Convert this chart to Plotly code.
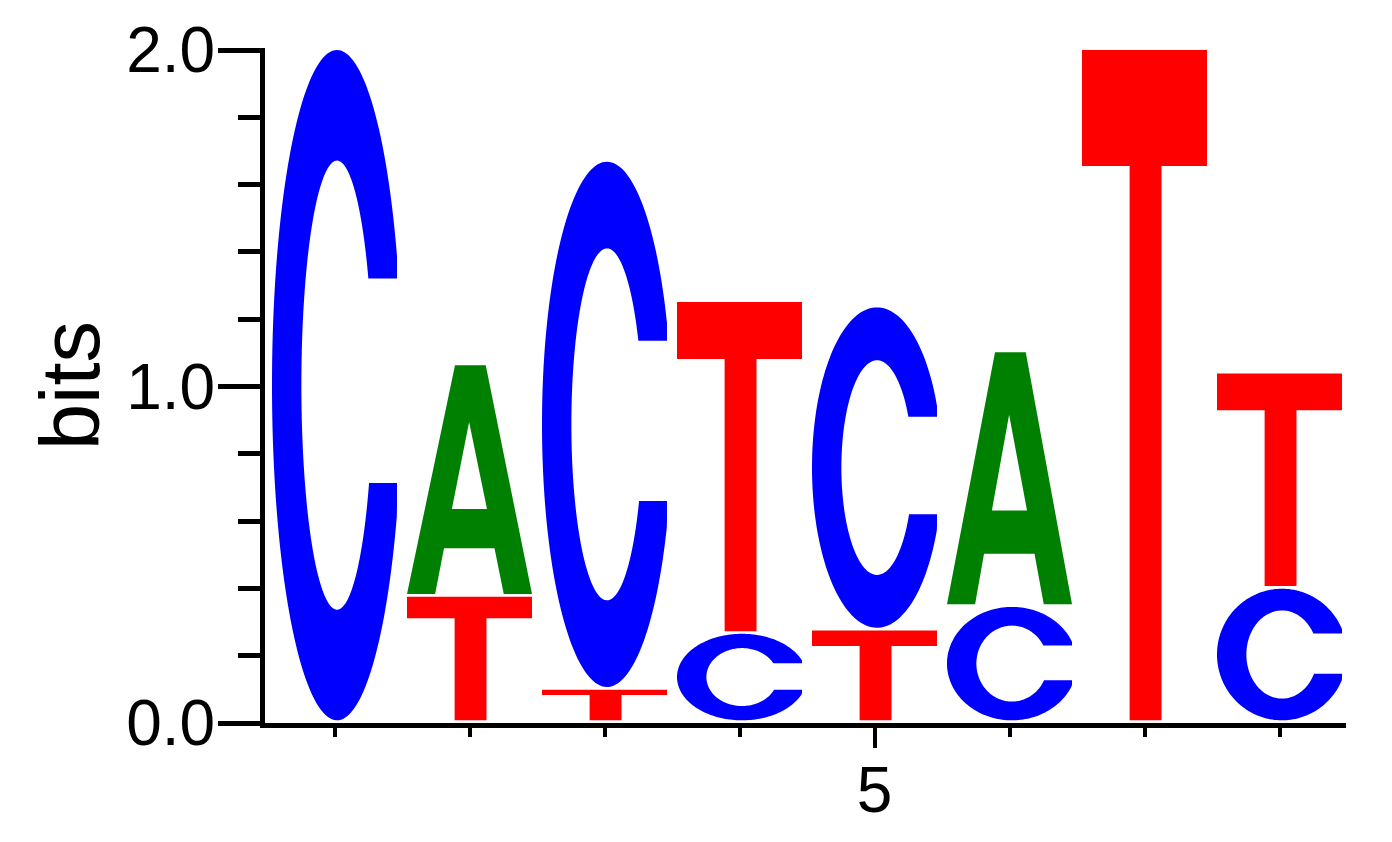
import math
import numpy as np
import plotly.graph_objects as go

positions = [1, 2, 3, 4, 5, 6, 7, 8]
# letters stacked bottom -> top at each position
stack_letters = [["C"], ["T", "A"], ["T", "C"], ["C", "T"], ["T", "C"], ["C", "A"], ["T"], ["C", "T"]]
# information (bits) carried by each letter, same order
stack_bits = [[2.0], [0.375, 0.688], [0.099, 1.569], [0.265, 0.986],
              [0.275, 0.960], [0.345, 0.757], [2.0], [0.399, 0.640]]
y_tick_vals = [0, 1, 2]
y_tick_text = ["0.0", "1.0", "2.0"]
x_tick_vals = [5]
x_tick_text = ["5"]

letter_colors = {"A": "#008000", "C": "#0000FF", "G": "#FFA500", "T": "#FF0000"}

# ---- glyph outlines in a unit box (u: 0..1 left->right, v: 0..1 bottom->top) ----
def glyph_C(n=160):
    cx, cy, rx, ry = 0.52, 0.5, 0.52, 0.5
    icx, icy, irx, iry = 0.52, 0.5, 0.285, 0.335
    top_cut, bot_cut = 0.659, 0.354
    t1 = math.asin((top_cut - cy) / ry)
    t2 = 2 * math.pi + math.asin((bot_cut - cy) / ry)
    outer = [(min(cx + rx * math.cos(t), 1.0), cy + ry * math.sin(t)) for t in np.linspace(t1, t2, n)]
    p1 = math.asin((top_cut - icy) / iry)
    p2 = 2 * math.pi + math.asin((bot_cut - icy) / iry)
    inner = [(icx + irx * math.cos(p), icy + iry * math.sin(p)) for p in np.linspace(p2, p1, n)]
    return [outer + inner]


def glyph_A():
    outer = [(0.0, 0.0), (0.384, 1.0), (0.630, 1.0), (1.0, 0.0), (0.774, 0.0),
             (0.700, 0.200), (0.296, 0.200), (0.225, 0.0)]
    hole = [(0.359, 0.372), (0.497, 0.752), (0.640, 0.372)]
    return [outer, hole]


def glyph_T():
    b = 0.827
    return [[(0.381, 0.0), (0.636, 0.0), (0.636, b), (1.0, b), (1.0, 1.0),
             (0.0, 1.0), (0.0, b), (0.381, b)]]


glyphs = {"A": glyph_A(), "C": glyph_C(), "T": glyph_T()}

half_w = 0.463   # half width of a letter column (x units)
gap = 0.008      # small vertical gap under each glyph (bits)

shapes = []
for pos, letters, bits in zip(positions, stack_letters, stack_bits):
    base = 0.0
    for letter, h in zip(letters, bits):
        y0, y1 = base + gap, base + h
        x0 = pos - half_w
        parts = []
        for poly in glyphs[letter]:
            pts = [(x0 + u * 2 * half_w, y0 + v * (y1 - y0)) for u, v in poly]
            parts.append("M " + " L ".join(f"{x:.5f},{y:.5f}" for x, y in pts) + " Z")
        shapes.append(dict(type="path", xref="x", yref="y", path=" ".join(parts),
                           fillcolor=letter_colors[letter], fillrule="evenodd",
                           line=dict(width=0), layer="above"))
        base += h

fig = go.Figure()
# invisible anchor trace so the axes exist
fig.add_trace(go.Scatter(x=positions, y=[sum(b) for b in stack_bits], mode="markers",
                         marker=dict(opacity=0), hoverinfo="skip", showlegend=False))

font_family = "Liberation Sans, Arial, Helvetica, sans-serif"
fig.update_layout(
    width=1392, height=842,
    margin=dict(l=265, r=46, t=48, b=119, autoexpand=False),
    paper_bgcolor="white", plot_bgcolor="white",
    shapes=shapes, showlegend=False,
    font=dict(family=font_family, color="black"),
    xaxis=dict(range=[1 - (334.5 - 265) / 135, 8 + (1346 - 1279.5) / 135],
               automargin=False,
               showgrid=False, zeroline=False, showline=True, linewidth=5, linecolor="black",
               ticks="outside", tickvals=x_tick_vals, ticktext=x_tick_text,
               ticklen=20, tickwidth=4, tickcolor="black", ticklabelstandoff=-13,
               tickfont=dict(size=64, family=font_family, color="black"),
               minor=dict(dtick=1, tick0=0, ticks="outside", ticklen=9, tickwidth=4,
                          tickcolor="black", showgrid=False)),
    yaxis=dict(range=[0, 2 + 2 / 336.5],
               automargin=False,
               showgrid=False, zeroline=False, showline=True, linewidth=5, linecolor="black",
               ticks="outside", tickvals=y_tick_vals, ticktext=y_tick_text,
               ticklen=42, tickwidth=4.5, tickcolor="black", ticklabelstandoff=-10,
               tickfont=dict(size=64, family=font_family, color="black"),
               title=dict(text="bits", font=dict(size=83, family=font_family, color="black"),
                          standoff=1),
               minor=dict(dtick=0.2, tick0=0, ticks="outside", ticklen=22, tickwidth=4.5,
                          tickcolor="black", showgrid=False)),
)

fig.write_html("out.html")
